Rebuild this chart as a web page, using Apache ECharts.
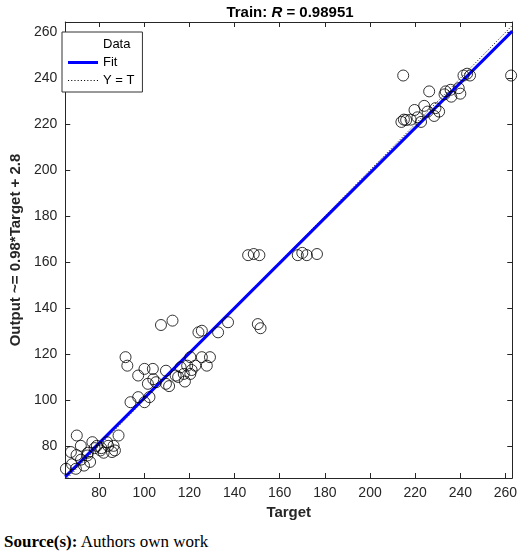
<!DOCTYPE html>
<html><head><meta charset="utf-8">
<script src="https://cdn.jsdelivr.net/npm/echarts@6/dist/echarts.min.js"></script>
<style>body{margin:0;background:#fff}#c{width:520px;height:530px}#s{position:absolute;left:4px;top:532px;font-family:"Liberation Serif",serif;font-size:17px}</style>
</head><body><div id="c"></div><div id="s"><b>Source(s):</b> Authors own work</div>
<script>
const targets = [64.7,70.1,65.3,67.5,69.7,71.9,73.3,74.8,77,80.6,83.5,85.7,88.6,86.4,79,68,72,76,78,82,84,87,70,75,81,
 92.5,91.7,107.4,112.5,93.9,97.3,100.1,102.3,97.3,100.1,103.8,101.6,105.2,109.6,109.6,113.9,116.1,119,120.4,125.5,129.1,127.7,122.6,117.5,120.4,124,125.5,132.7,137.1,150.3,151.5,104,111,115,118,121,
 146,148.5,151,168,170,172,176.5,
 214.7,262.5,213.9,216,219.7,222.6,225.5,226.2,228.4,230.6,233.5,235.7,239.3,241.4,244.3,240,233,215,218,224,229,236,243,221];
const outputs = [80.6,84.5,70,77.3,70,80,71.4,75.8,81.6,78,81.6,77.3,84.5,80,80,72,74,73,79,77,80,78,76,77,79,
 114.9,118.6,132.6,134.5,99,101.2,99,101.2,110.6,113.5,113.5,107,107.7,112.7,107,110.6,114.2,114.9,118.6,118.6,118.6,114.9,114.9,111.3,111.3,129.4,130.1,129.4,133.8,133,131.2,109,106,110,108,113,
 163,163.5,163,163,164,163,163.5,
 241.2,241.2,221,221.8,226.2,221,225.5,234.3,223.6,225.5,234.3,235,235.7,241.2,241.2,233.3,233,222,222,228,227,232,242,223];
const fitSlope = 0.98, fitIntercept = 2.8;
const xMin = 65, xMax = 263, yMin = 66, yMax = 264.5;
const tickVals = [80,100,120,140,160,180,200,220,240,260];
const pts = targets.map((t,i)=>[t,outputs[i]]);
const ch = echarts.init(document.getElementById('c'));
const font = 'Arial, "Liberation Sans", sans-serif';
function ax(pos, show){return {type:'value',position:pos,min:pos==='bottom'||pos==='top'?xMin:yMin,max:pos==='bottom'||pos==='top'?xMax:yMax,
 axisLine:{show:true,onZero:false,lineStyle:{color:'#262626'}},splitLine:{show:false},
 axisTick:{show:true,inside:true,length:5,customValues:tickVals,lineStyle:{color:'#262626'}},
 axisLabel:{show:show,customValues:tickVals,color:'#262626',fontSize:14,fontFamily:font}};}
const xb = ax('bottom',true); xb.name='Target'; xb.nameLocation='middle'; xb.nameGap=26; xb.nameTextStyle={fontWeight:'bold',fontSize:15,color:'#262626',fontFamily:font};
const yl = ax('left',true); yl.name='Output ~= 0.98*Target + 2.8'; yl.nameLocation='middle'; yl.nameGap=34; yl.nameTextStyle={fontWeight:'bold',fontSize:15,color:'#262626',fontFamily:font};
const xt = ax('top',false), yr = ax('right',false);
let dots = ''; for (let i=0;i<30;i+=3) dots += 'M'+i+' 0H'+(i+1)+'V1H'+i+'Z';
ch.setOption({
 animation:false,
 title:{text:'{a|Train: }{b|R}{a| = 0.98951}',left:285,textAlign:'center',top:0,textStyle:{rich:{a:{fontWeight:'bold',fontSize:15,fontFamily:font,color:'#000'},b:{fontWeight:'bold',fontStyle:'italic',fontSize:15,fontFamily:font,color:'#000'}}}},
 grid:{left:55,right:7,top:22,bottom:52},
 xAxis:[xb,xt], yAxis:[yl,yr],
 legend:{orient:'vertical',left:62,top:32,itemGap:5,itemWidth:30,itemHeight:12,backgroundColor:'#fff',borderColor:'#333',borderWidth:1,padding:[5,8,5,6],
  textStyle:{fontSize:13,fontFamily:font,color:'#000'},
  data:[{name:'Data',icon:'emptyCircle',itemStyle:{color:'#fff',borderColor:'#000',borderWidth:1}},
        {name:'Fit',icon:'path://M0 0H30V3H0Z',itemHeight:3,itemStyle:{color:'#0000ff',borderWidth:0}},
        {name:'Y = T',icon:'path://'+dots,itemHeight:1,itemStyle:{color:'#000',borderWidth:0}}]},
 series:[
  {name:'Data',type:'scatter',data:pts,symbol:'circle',symbolSize:11,itemStyle:{color:'rgba(0,0,0,0)',borderColor:'#000',borderWidth:1},z:3},
  {name:'Fit',type:'line',data:[[xMin,fitSlope*xMin+fitIntercept],[xMax,fitSlope*xMax+fitIntercept]],showSymbol:false,symbol:'none',lineStyle:{color:'#0000ff',width:3},itemStyle:{color:'#0000ff'},z:2},
  {name:'Y = T',type:'line',data:[[xMin,xMin],[xMax,xMax]],symbol:'none',lineStyle:{color:'#000',width:1,type:[1,2]},itemStyle:{color:'#000'},z:1}
 ]
});
</script></body></html>
